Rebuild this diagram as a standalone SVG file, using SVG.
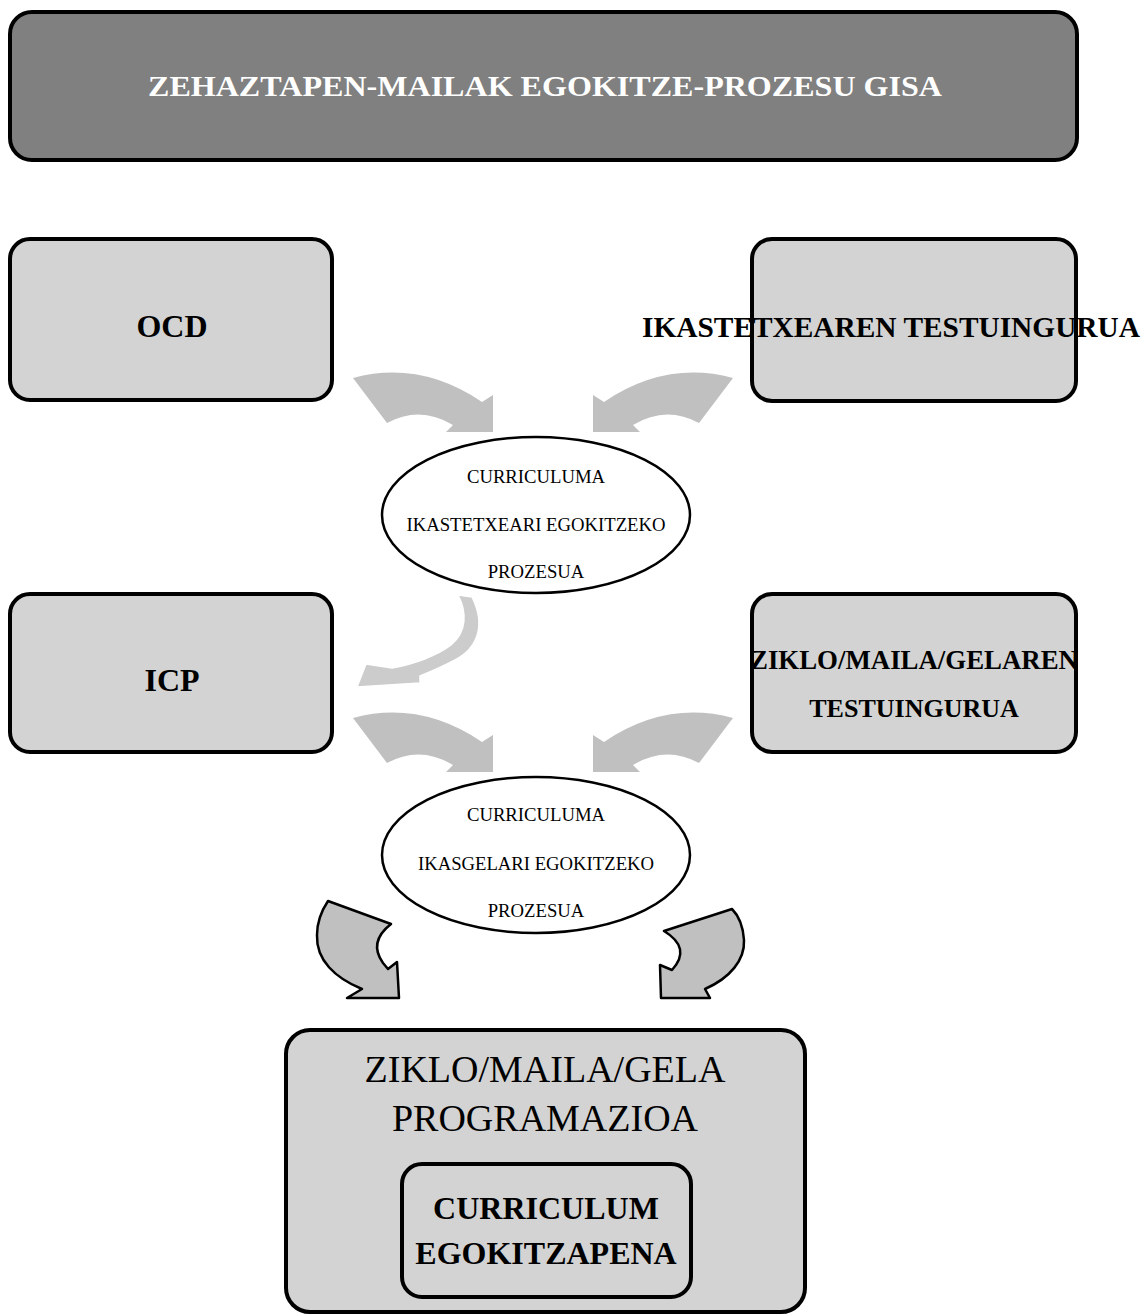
<svg xmlns="http://www.w3.org/2000/svg" width="1144" height="1315" viewBox="0 0 1144 1315">
<style>
.box{fill:#d3d3d3;stroke:#000;stroke-width:4}
.ell{fill:#fff;stroke:#000;stroke-width:2.5}
.b{font-family:"Liberation Serif","Times New Roman",serif;font-weight:bold;fill:#000;text-anchor:middle}
.n{font-family:"Liberation Serif","Times New Roman",serif;fill:#000;text-anchor:middle}
.ga{fill:#c0c0c0;stroke:none}
.sa{fill:#c0c0c0;stroke:#000;stroke-width:2.5;stroke-linejoin:round}
</style>
<defs>
<path id="bendL" d="M353,378 Q420,360 482,402 L493,395 L493,432 L446,432 L453,425 Q420,405 387,423 Z"/>
</defs>
<g id="title">
<rect x="10" y="12" width="1067" height="148" rx="22" fill="#808080" stroke="#000" stroke-width="4"/>
<text class="b" x="545" y="96" font-size="30" style="fill:#fff" textLength="794" lengthAdjust="spacingAndGlyphs">ZEHAZTAPEN-MAILAK EGOKITZE-PROZESU GISA</text>
</g>
<g id="ocd">
<rect class="box" x="10" y="239" width="322" height="161" rx="20"/>
<text class="b" x="172" y="337" font-size="32">OCD</text>
</g>
<g id="ikastetxea">
<rect class="box" x="752" y="239" width="324" height="162" rx="20"/>
<text class="b" x="891" y="337" font-size="29" textLength="498" lengthAdjust="spacingAndGlyphs">IKASTETXEAREN TESTUINGURUA</text>
</g>
<g id="proz1">
<ellipse class="ell" cx="536" cy="515" rx="154" ry="78"/>
<text class="n" x="536" y="483" font-size="18.7">CURRICULUMA</text>
<text class="n" x="536" y="531" font-size="18.7">IKASTETXEARI EGOKITZEKO</text>
<text class="n" x="536" y="578" font-size="18.7">PROZESUA</text>
</g>
<g id="icp">
<rect class="box" x="10" y="594" width="322" height="158" rx="20"/>
<text class="b" x="172" y="691" font-size="32">ICP</text>
</g>
<g id="ziklo">
<rect class="box" x="752" y="594" width="324" height="158" rx="20"/>
<text class="b" x="914" y="669" font-size="27" textLength="328" lengthAdjust="spacingAndGlyphs">ZIKLO/MAILA/GELAREN</text>
<text class="b" x="914" y="717" font-size="26">TESTUINGURUA</text>
</g>
<g id="proz2">
<ellipse class="ell" cx="536" cy="855" rx="154" ry="78"/>
<text class="n" x="536" y="821" font-size="18.7">CURRICULUMA</text>
<text class="n" x="536" y="870" font-size="18.7">IKASGELARI EGOKITZEKO</text>
<text class="n" x="536" y="917" font-size="18.7">PROZESUA</text>
</g>
<g id="programazioa">
<rect class="box" x="286" y="1030" width="519" height="282" rx="24"/>
<text class="n" x="545" y="1082" font-size="38">ZIKLO/MAILA/GELA</text>
<text class="n" x="545" y="1131" font-size="38">PROGRAMAZIOA</text>
<g id="egokitzapena">
<rect class="box" x="402" y="1164" width="289" height="133" rx="20"/>
<text class="b" x="546" y="1219" font-size="32">CURRICULUM</text>
<text class="b" x="546" y="1264" font-size="32">EGOKITZAPENA</text>
</g>
</g>
<g id="connectors">
<use href="#bendL" class="ga"/>
<use href="#bendL" class="ga" transform="translate(1086,0) scale(-1,1)"/>
<use href="#bendL" class="ga" transform="translate(0,340)"/>
<use href="#bendL" class="ga" transform="translate(1086,340) scale(-1,1)"/>
<path d="M472,597 C486,625 478,648 455,660 C442,667 430,672 420,676 L420,683 L357,687 L366,664 L392,668 C415,664 438,655 451,645 C467,632 467,612 458,595 Z" fill="#cccccc" stroke="#fff" stroke-width="1.5" stroke-linejoin="round"/>
<path class="sa" d="M328,901 L391,924 Q368,942 383,963 L388,969 L397,962 L399,998 L347,998 L362,989 C335,978 316,960 317,935 C317,920 322,910 328,901 Z"/>
<path class="sa" d="M732,909 L664,931 Q692,948 672,970 L660,965 L661,998 L710,998 L705,989 C730,978 745,960 744,940 C743,925 738,915 732,909 Z"/>
</g>
</svg>
